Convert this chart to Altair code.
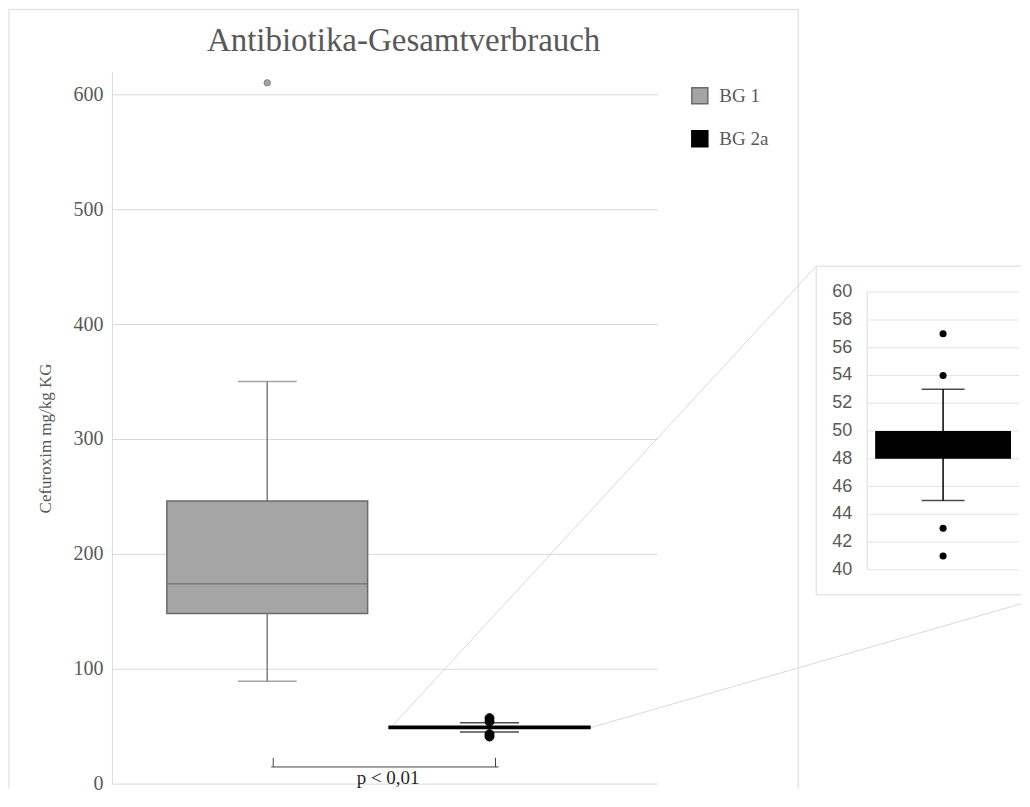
import altair as alt
import pandas as pd

# ---------------- data ----------------
groups = ["BG 1", "BG 2a"]
whisker_low = [89, 45]
q1 = [148, 48]
median = [174, 49]
q3 = [246, 50]
whisker_high = [350, 53]

outlier_group = ["BG 1", "BG 2a", "BG 2a", "BG 2a", "BG 2a"]
outlier_value = [610, 57, 54, 43, 41]

fill_colors = ["#a5a5a5", "#000000"]
edge_colors = ["#6b6b6b", "#000000"]
line_colors = ["#7f7f7f", "#000000"]
point_fill = ["#a5a5a5", "#000000"]

main_ticks = [0, 100, 200, 300, 400, 500, 600]
inset_ticks = [40, 42, 44, 46, 48, 50, 52, 54, 56, 58, 60]
inset_group = "BG 2a"

title_text = "Antibiotika-Gesamtverbrauch"
y_title = "Cefuroxim mg/kg KG"
p_label = "p < 0,01"
bracket_low = [14.5]
bracket_high = [22.5]
p_label_y = [4.5]

# ---------------- tables ----------------
summary = pd.DataFrame({
    "group": groups, "low": whisker_low, "q1": q1, "median": median,
    "q3": q3, "high": whisker_high, "line": line_colors, "edge": edge_colors,
})
outliers = pd.DataFrame({"group": outlier_group, "value": outlier_value})
outliers["fill"] = outliers["group"].map(dict(zip(groups, point_fill)))
outliers["stroke"] = outliers["group"].map(dict(zip(groups, line_colors)))

inset_summary = summary[summary["group"] == inset_group].reset_index(drop=True)
inset_out = outliers[outliers["group"] == inset_group].reset_index(drop=True)
inset_grid = pd.DataFrame({"group": [inset_group] * len(inset_ticks), "value": inset_ticks})
inset_axis = pd.DataFrame({"group": [inset_group], "lo": [min(inset_ticks)], "hi": [max(inset_ticks)]})

bracket = pd.DataFrame({"g1": [groups[0]], "g2": [groups[1]], "lo": bracket_low, "hi": bracket_high})
bracket_ends = pd.DataFrame({"group": groups, "lo": bracket_low * 2, "hi": bracket_high * 2})
p_df = pd.DataFrame({"group": [groups[0]], "y": p_label_y, "label": [p_label]})
title_df = pd.DataFrame({"t": [title_text]})

SERIF = "Times New Roman"
SANS = "Liberation Sans"
GRAY_TXT = "#595959"
GRID = "#d9d9d9"

W, H = 546, 713

# ---------------- main chart ----------------
x_main_scale = alt.Scale(domain=groups, paddingInner=0, paddingOuter=0.227, align=0.438)
y_main_scale = alt.Scale(domain=[0, 620], nice=False, zero=True)
y_axis = alt.Axis(
    values=main_ticks, title=y_title, titleFont=SERIF, titleFontSize=17,
    titleFontWeight="normal", titleColor=GRAY_TXT, titleX=-66, titleY=367,
    titleBaseline="middle", titleAngle=270,
    labelFont=SERIF, labelFontSize=20, labelColor=GRAY_TXT, labelPadding=9,
    ticks=False, domainColor=GRID, grid=True, gridColor=GRID,
)

def X(field="group"):
    return alt.X(f"{field}:N", scale=x_main_scale, axis=None)

def Y(field):
    return alt.Y(f"{field}:Q", scale=y_main_scale, axis=y_axis)

base = alt.Chart(summary)

whisk = base.mark_rule(strokeWidth=1.5).encode(
    x=X(), y=Y("low"), y2="high", color=alt.Color("line:N", scale=None)
)
cap_lo = base.mark_tick(size=59, thickness=1.5).encode(
    x=X(), y=Y("low"), color=alt.Color("line:N", scale=None)
)
cap_hi = base.mark_tick(size=59, thickness=1.5).encode(
    x=X(), y=Y("high"), color=alt.Color("line:N", scale=None)
)
legend = alt.Legend(
    title=None, orient="none", legendX=579, legendY=15, symbolType="square",
    symbolSize=256, symbolStrokeWidth=1.5, rowPadding=20, labelFont=SERIF,
    labelFontSize=19, labelColor=GRAY_TXT, labelOffset=10,
)
box = base.mark_bar(size=201, strokeWidth=1.5).encode(
    x=X(), y=Y("q1"), y2="q3",
    fill=alt.Fill("group:N", scale=alt.Scale(domain=groups, range=fill_colors), legend=legend),
    stroke=alt.Stroke("group:N", scale=alt.Scale(domain=groups, range=edge_colors), legend=legend),
)
med = base.mark_tick(size=201, thickness=1.5).encode(
    x=X(), y=Y("median"), color=alt.Color("edge:N", scale=None)
)
pts_main = alt.Chart(outliers).mark_point(filled=True, opacity=1, strokeWidth=1).encode(
    x=X(), y=Y("value"),
    fill=alt.Fill("fill:N", scale=None),
    stroke=alt.Stroke("stroke:N", scale=None),
    size=alt.condition(alt.datum.group == groups[0], alt.value(40), alt.value(80)),
)
br = alt.Chart(bracket).mark_rule(color="#404040", strokeWidth=1, xOffset=4, x2Offset=9).encode(
    x=alt.X("g1:N", scale=x_main_scale, axis=None), x2="g2", y=Y("lo")
)
br_ends = alt.Chart(bracket_ends).mark_rule(color="#404040", strokeWidth=1, xOffset=6).encode(
    x=X(), y=Y("lo"), y2="hi"
)
p_txt = alt.Chart(p_df).mark_text(
    font=SERIF, fontSize=19, color="#262626", dx=121, baseline="middle"
).encode(x=X(), y=Y("y"), text="label:N")

main = alt.layer(whisk, cap_lo, cap_hi, box, med, pts_main, br, br_ends, p_txt)

# ---------------- inset ----------------
x_in_scale = alt.Scale(domain=[inset_group], range=[756, 908], paddingInner=0, paddingOuter=0)
y_in_scale = alt.Scale(domain=[min(inset_ticks), max(inset_ticks)], range=[499, 221], nice=False, zero=False)

def XI():
    return alt.X("group:N", scale=x_in_scale, axis=None)

def YI(field):
    return alt.Y(f"{field}:Q", scale=y_in_scale, axis=None)

in_grid = alt.Chart(inset_grid).mark_tick(size=152, thickness=1, color=GRID).encode(x=XI(), y=YI("value"))
in_axis = alt.Chart(inset_axis).mark_rule(color=GRID, xOffset=-76).encode(x=XI(), y=YI("lo"), y2="hi")
in_lab = alt.Chart(inset_grid).mark_text(
    font=SANS, fontSize=18, color=GRAY_TXT, align="right", baseline="middle", dx=-91
).encode(x=XI(), y=YI("value"), text=alt.Text("value:Q"))
ib = alt.Chart(inset_summary)
in_wh = ib.mark_rule(color="#000000", strokeWidth=1.5).encode(x=XI(), y=YI("low"), y2="high")
in_cl = ib.mark_tick(size=43, thickness=1.5, color="#000000").encode(x=XI(), y=YI("low"))
in_ch = ib.mark_tick(size=43, thickness=1.5, color="#000000").encode(x=XI(), y=YI("high"))
in_box = ib.mark_bar(size=136, color="#000000").encode(x=XI(), y=YI("q1"), y2="q3")
in_pts = alt.Chart(inset_out).mark_circle(size=50, color="#000000", opacity=1).encode(x=XI(), y=YI("value"))

inset = alt.layer(in_grid, in_axis, in_lab, in_wh, in_cl, in_ch, in_box, in_pts)

# ---------------- decoration: frames, connectors, title ----------------
one = pd.DataFrame({"k": [0]})
def seg(x1, y1, x2, y2):
    return alt.Chart(one).mark_rule(color=GRID, strokeWidth=1).encode(
        x=alt.value(x1), y=alt.value(y1), x2=alt.value(x2), y2=alt.value(y2)
    )

frames = [
    seg(-103, -62, 687, -62), seg(-103, -62, -103, 718), seg(687, -62, 687, 718),
    seg(705, 195, 910, 195), seg(705, 195, 705, 524), seg(705, 524, 910, 524),
    seg(279, 657, 705, 195), seg(479, 657, 910, 533),
]
title = alt.Chart(title_df).mark_text(
    font=SERIF, fontSize=33, fontWeight="normal", color=GRAY_TXT,
    baseline="alphabetic", align="center"
).encode(x=alt.value(292), y=alt.value(-20), text="t:N")

deco = alt.layer(*frames, title)

chart = alt.layer(deco, main, inset).resolve_scale(
    x="independent", y="independent"
).properties(width=W, height=H, padding=0).configure_view(stroke=None)

chart.save("out.html", embed_options={"renderer": "svg", "actions": False})
